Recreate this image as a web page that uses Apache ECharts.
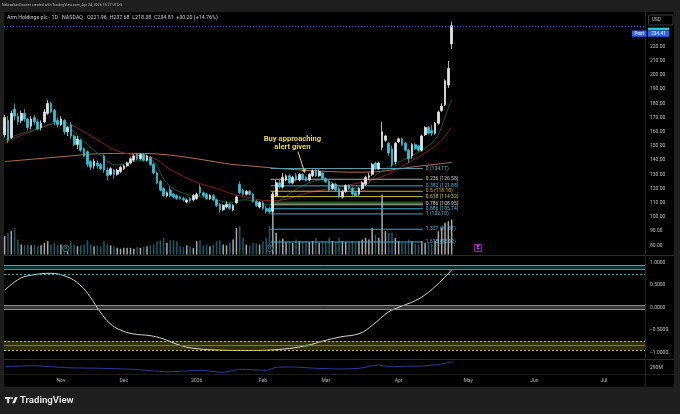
<!DOCTYPE html>
<html><head><meta charset="utf-8">
<script src="https://cdn.jsdelivr.net/npm/echarts@6/dist/echarts.min.js"></script>
<style>html,body{margin:0;padding:0;background:#1f1f1f}#c{width:680px;height:414px}</style>
</head><body><div id="c"></div><script>
// ---------- DATA ----------
const dates = ('2025-10-09 2025-10-10 2025-10-13 2025-10-14 2025-10-15 2025-10-16 2025-10-17 2025-10-20 2025-10-21 2025-10-22 2025-10-23 2025-10-24 2025-10-27 2025-10-28 2025-10-29 2025-10-30 2025-10-31 ' +
 '2025-11-03 2025-11-04 2025-11-05 2025-11-06 2025-11-07 2025-11-10 2025-11-11 2025-11-12 2025-11-13 2025-11-14 2025-11-17 2025-11-18 2025-11-19 2025-11-20 2025-11-21 2025-11-24 2025-11-25 2025-11-26 2025-11-28 ' +
 '2025-12-01 2025-12-02 2025-12-03 2025-12-04 2025-12-05 2025-12-08 2025-12-09 2025-12-10 2025-12-11 2025-12-12 2025-12-15 2025-12-16 2025-12-17 2025-12-18 2025-12-19 2025-12-22 2025-12-23 2025-12-24 2025-12-26 2025-12-29 2025-12-30 2025-12-31 ' +
 '2026-01-02 2026-01-05 2026-01-06 2026-01-07 2026-01-08 2026-01-09 2026-01-12 2026-01-13 2026-01-14 2026-01-15 2026-01-16 2026-01-20 2026-01-21 2026-01-22 2026-01-23 2026-01-26 2026-01-27 2026-01-28 2026-01-29 2026-01-30 ' +
 '2026-02-02 2026-02-03 2026-02-04 2026-02-05 2026-02-06 2026-02-09 2026-02-10 2026-02-11 2026-02-12 2026-02-13 2026-02-17 2026-02-18 2026-02-19 2026-02-20 2026-02-23 2026-02-24 2026-02-25 2026-02-26 2026-02-27 ' +
 '2026-03-02 2026-03-03 2026-03-04 2026-03-05 2026-03-06 2026-03-09 2026-03-10 2026-03-11 2026-03-12 2026-03-13 2026-03-16 2026-03-17 2026-03-18 2026-03-19 2026-03-20 2026-03-23 2026-03-24 2026-03-25 2026-03-26 2026-03-27 2026-03-30 2026-03-31 ' +
 '2026-04-01 2026-04-02 2026-04-06 2026-04-07 2026-04-08 2026-04-09 2026-04-10 2026-04-13 2026-04-14 2026-04-15 2026-04-16 2026-04-17 2026-04-20 2026-04-21 2026-04-22 2026-04-23 2026-04-24').split(' ');

// open, close, low, high
const ohlc = [
[158,170,156,172],[168,154,152,171],[156,173,155,175],[176,171,168,180],[171,167,165,173],
[168,173,166,175],[173,169,167,176],[169,163,161,170],[164,169,162,171],[170,167,165,172],
[167,162,161,169],[163,166,161,168],[167,174,166,176],[173,180,172,182.5],[180,174,173,181],
[175,167,165,176],[168,165,163,170],[165,169,164,171],[168,160,158,169],[160,163,157,164],
[165,157,155,167],[157,151,150,158],[151,155,148,157],[154,147,146,155],[148,143,142,149],
[146,137,135,147],[139,135,133,140],[136,139,134,141],[138,136,134,140],[137,134,133,138],
[143,133,131,144],[133,129,126,135],[130,134,129,135],[133,130,127,134],[130,133,129,134],
[132,135,131,136],[134,136,133,137],[136,138,135,139],[138,141,137,142],[140,143,139,144],
[144,141,140,145],[141,144,140,145],[144,140,139,145],[140,143,139,144],[142,137,136,143],
[137,131,130,138],[131,124,123,132],[125,119,118,126],[120,115,114,121],[115,117,114,118],
[119,115,114,121],[116,114,113,117],[115,113,112,116],[114,113,112,115],[113,112,111,114],
[110.5,112,109.5,113],[113,111.5,110,114],[112,115,111,116],[113,116,112,117],[121,117,115,123],
[117,115,114,118],[116,113,112,117],[113,115,112,116],[115,112,111,116],[112,108,107,113],
[109,105,103,110],[105,108,104,109],[107,109,106,111],[109,106,105,110],[105,108,104,109],
[110,114,109,115],[123,117,116,125],[119,116,115,120],[116,118,115,119],[118,116,115,119],
[116,111,110,117],[111,108,107,112],[107,110,106,111],[110,106,105,111],[106,104,102.5,108],
[106,103.5,102.1,107],[104,116,103,117],[115,124,114,126],[124,121,120,126],[121,128,120,131],
[126,129,125,130],[129,124,123,130],[124,128,123,129],[129,126,125,131],[126,130,125,131],
[130,127,126,131],[128,125.5,125,129],[126,130,125,131],[129,132.5,128,133.5],[133,129,128,134.11],
[129,132,128,133.5],[131,127,126,132],[127,125,124,128],[125,119,118,126],[120,123,119,124],
[123,119,118,124],[120,114,113,121],[114,118,113,119],[118,122,117,123],[122,120,119,123],
[120,116,115,121],[117,115,114,118],[116,120,115,121],[120,124,119,125],[123,128,122,129],
[128,129,126,131],[130,137,129,138],[138,134,133,139],[134,138,133,139],[149,160,147,167],
[154,157,153,158],[152,145,143,153],[148,137,135,150],[139,152,137,153],[153,155,152,156],
[155,151,150,156],[152,147,146,153],[147,141,138,148],[143,151,141,152],[151,148,147,152],
[150,147,146,151],[147,157,146,158],[158,163,157,164],[163,159,158,164],[161,159,157,165],
[159,166,158,167],[166,174,165,175],[175,178,174,180],[179,196,178,197],[193,204.61,191,210],
[221.96,234.81,218.38,237.68]
];

const volume = [
11,13,14,16,9,6,5.5,6,5.5,6, 5,5.5,7,8,6,7,5.5,6,5.5,5,
8,6,5,5.5,6,8.5,6,5,5.5,5, 8,6.5,5.5,5,4,3.5,4,4,4,3.5,
4.5,4,4.5,5,5.5,6,8,8.5,10,7, 8.5,8.5,8,5,4.5,5.5,5,4,8,8.5,
5.5,6,5,6,8,8.5,6,5.5,7,9, 16,17,10,6,5.5,7,6.5,6,8,10,
17,38,13,9,9.5,7.5,8,7,9,8, 7.5,8,7.5,8,10,7,8,7.5,10,8,
7.5,10,8,7.5,7,8,7,8,9,10, 9,16,12,10,36,14,13,13,10,8,
7,7,9,8,6.5,6,8,7,7,6.5, 8,14,16,19,20,21
];

const ma200 = [[0,139],[10,141],[20,143],[28,144.5],[40,144.8],[48,144],[55,142],[62,139.5],[68,137.2],[75,135.8],[81,134.5],[90,133],[98,132],[106,131.5],[112,131.8],[118,133.5],[124,135.5],[130,137],[135,138.5]];
const ma50 = [[0,152],[4,156.5],[9,161],[14,165.5],[18,166],[22,162.5],[29,153],[34,146.5],[41,143],[45,141.5],[49,135],[54,128.5],[59,123.5],[64,120],[69,116],[74,113.5],[79,111.5],[84,112],[90,116],[98,120],[106,123.5],[112.4,127],[117.3,132],[122.5,139],[127.6,146],[131.5,153],[135,163]];
const ma20 = [[0,154],[4,158],[8.5,161],[13,164.5],[16.7,167],[20,162],[23.6,154],[28.8,143.6],[33.9,136.6],[38.7,139],[43.9,140],[49,123.7],[53.8,116.8],[59,114.3],[64,112],[68,110],[72,112],[76,111],[80,108.5],[84,113],[90,122],[96,126],[101,122],[106,120],[110,124],[112.4,130],[117.3,136.6],[122.5,142.5],[127.6,149.5],[130.6,156.5],[132.6,168],[135,183]];

const fibRatios = ['0','0.236','0.382','0.5','0.618','0.786','0.886','1','1.337','1.618'];
const fibValues = [134.11,126.55,121.88,118.10,114.32,108.95,105.74,102.10,91.31,82.32];
const fibAnchor = [80.3, 126.3];        // bar index span of the drawing
const fibZone = [107.9, 110.8];          // shaded pocket

const oscPoints = [[0,0.38],[4.6,0.64],[8.5,0.72],[13.7,0.755],[18.8,0.68],[22.7,0.50],[25.8,0.235],[28.8,-0.10],[31.8,-0.36],[34.8,-0.50],[38.7,-0.59],[43.9,-0.63],[47.8,-0.70],[52,-0.82],[56,-0.90],[64.1,-0.95],[74.1,-0.96],[84,-0.93],[91.3,-0.85],[96.1,-0.75],[101.3,-0.66],[107.3,-0.58],[111.2,-0.39],[115.8,-0.11],[119.4,0.01],[125.4,0.20],[130.6,0.50],[135,0.83]];
const oscSignal = [[91.3,-0.85]];
const oscBands = {upper:[0.94,0.85,0.74], mid:[0.05,-0.04], lower:[-0.75,-0.85,-0.95]};

const obvPoints = [[0,265],[8.6,270],[18.7,260],[28.8,257],[38.8,252],[48.9,240],[55,243.5],[59,247],[66,237],[71,252],[79,247],[82,262],[87,263.5],[94,257],[101,253.5],[107,257],[113,273.5],[116,265],[121,267],[126,268.5],[131.5,277],[135,290]];

const monthTicks = [17,36,58,78,97,119,140,160,181];
const monthNames = ['Nov','Dec','2026','Feb','Mar','Apr','May','Jun','Jul'];
const priceTicks = [80,90,100,110,120,130,140,150,160,170,180,190,200,210,220];
const oscTicks = [1,0.5,0,-0.5,-1];
const postPrice = 234.41;
const events = [{i:18.5,t:'D'},{i:80,t:'D'},{i:143,t:'E'}];
const annotation = {lines:['Buy approaching','alert given'], textAt:[86.9,154.7,148.9], arrowFrom:[88.6,146], arrowTo:[90.7,130.8]};

// ---------- STYLE ----------
const UP = '#e4e4e4', DN = '#2ec4dc';
const fibColors = ['#5a9fae','#a8a8a8','#3fa7d6','#f0a830','#c9bd2c','#a8a8a8','#3fa7d6','#3fa7d6','#3fa7d6','#3fa7d6'];
const fibLabelColors = ['#7fb6d0','#d0d0d0','#4fb3e0','#f0b030','#d8c830','#d8d8d8','#5fb8e6','#5fb8e6','#5fb8e6','#5fb8e6'];
const FONT = 'Roboto';
const XMIN = -0.2, XMAX = 193.4;

const chart = echarts.init(document.getElementById('c'), null, {width:680, height:414});

const candleData = ohlc.map((d,i)=>[i,d[0],d[1],d[2],d[3]]);
const volData = volume.map((v,i)=>({value:[i,v], itemStyle:{color: ohlc[i][1]>=ohlc[i][0] ? 'rgba(215,215,215,0.78)' : 'rgba(40,150,170,0.62)'}}));

const series = [];
series.push({type:'bar', name:'vol', xAxisIndex:0, yAxisIndex:1, data:volData, barWidth:1.5, z:1, silent:true, animation:false});
series.push({type:'line', data:ma200, xAxisIndex:0, yAxisIndex:0, smooth:0.4, showSymbol:false, lineStyle:{color:'#b8703a', width:1}, z:2, animation:false});
series.push({type:'line', data:ma50, xAxisIndex:0, yAxisIndex:0, smooth:0.4, showSymbol:false, lineStyle:{color:'#8e1c1c', width:1}, z:2, animation:false});
series.push({type:'line', data:ma20, xAxisIndex:0, yAxisIndex:0, smooth:0.4, showSymbol:false, lineStyle:{color:'#1c5a2a', width:1}, z:2, animation:false});
fibValues.forEach((v,k)=>{
  const s = {type:'line', data:[[fibAnchor[0],v],[fibAnchor[1],v]], xAxisIndex:0, yAxisIndex:0, showSymbol:false, silent:true,
    lineStyle:{color:fibColors[k], width:1}, z:2, animation:false,
    endLabel:{show:true, formatter: fibRatios[k]+' ('+v.toFixed(2)+')', color:fibLabelColors[k], fontSize:5, fontFamily:FONT, distance:3}};
  if (k===0) {
    s.markArea = {silent:true, itemStyle:{color:'rgba(90,170,70,0.45)'}, data:[[{coord:[fibAnchor[0],fibZone[1]]},{coord:[fibAnchor[1],fibZone[0]]}]]};
  }
  series.push(s);
});
series.push({type:'candlestick', data:candleData, xAxisIndex:0, yAxisIndex:0, barWidth:2.2, z:3, animation:false,
  itemStyle:{color:UP, color0:DN, borderColor:UP, borderColor0:DN, borderWidth:0.8},
  markLine:{silent:true, symbol:'none', label:{show:false}, lineStyle:{color:'#2962ff', type:[1,2], width:1}, data:[{yAxis:postPrice}]}});

series.push({type:'line', data:oscPoints, xAxisIndex:1, yAxisIndex:2, smooth:0.4, showSymbol:false, z:4, animation:false,
  lineStyle:{width:1, color:'#d6d6cc'},
  markArea:{silent:true, data:[
    [{yAxis:oscBands.upper[0], itemStyle:{color:'rgba(30,140,140,0.35)'}},{yAxis:oscBands.upper[1]}],
    [{yAxis:oscBands.mid[0], itemStyle:{color:'rgba(120,120,120,0.45)'}},{yAxis:oscBands.mid[1]}],
    [{yAxis:oscBands.lower[0], itemStyle:{color:'rgba(150,150,30,0.32)'}},{yAxis:oscBands.lower[2]}]
  ]},
  markLine:{silent:true, symbol:'none', label:{show:false}, data:[
    {yAxis:oscBands.upper[0], lineStyle:{color:'#2bb3b0', type:'solid', width:1}},
    {yAxis:oscBands.upper[1], lineStyle:{color:'#2a9d9a', type:'solid', width:1}},
    {yAxis:oscBands.upper[2], lineStyle:{color:'#2bb3b0', type:[2,2], width:1}},
    {yAxis:oscBands.mid[0], lineStyle:{color:'#8a8a8a', type:'solid', width:1}},
    {yAxis:oscBands.mid[1], lineStyle:{color:'#8a8a8a', type:'solid', width:1}},
    {yAxis:oscBands.lower[0], lineStyle:{color:'#c8c030', type:[2,2], width:1}},
    {yAxis:oscBands.lower[1], lineStyle:{color:'#7a7a30', type:'solid', width:1}},
    {yAxis:oscBands.lower[2], lineStyle:{color:'#c8c030', type:[2,2], width:1}}
  ]}});
series.push({type:'scatter', data:oscSignal, xAxisIndex:1, yAxisIndex:2, symbolSize:3, itemStyle:{color:'#4caf50'}, z:5, animation:false});
series.push({type:'line', data:obvPoints, xAxisIndex:2, yAxisIndex:3, smooth:0.2, showSymbol:false, lineStyle:{color:'#2a3f9e', width:1}, z:3, animation:false});

const hiddenX = (g)=>({type:'value', gridIndex:g, min:XMIN, max:XMAX, show:false});
const option = {
  backgroundColor:'#1f1f1f',
  animation:false,
  grid:[
    {left:4, right:35, top:13, height:241.5, outerBoundsMode:'none'},
    {left:4, right:35, top:256, height:103, outerBoundsMode:'none'},
    {left:4, right:35, top:360, height:14, outerBoundsMode:'none'}
  ],
  xAxis:[hiddenX(0), hiddenX(1),
    {type:'value', gridIndex:2, min:XMIN, max:XMAX, axisLine:{show:false}, axisTick:{show:false}, splitLine:{show:false},
     axisLabel:{customValues:monthTicks, formatter:(v)=>monthNames[monthTicks.indexOf(v)], color:'#b8b8b8', fontSize:5, fontFamily:FONT, margin:4}}],
  yAxis:[
    {type:'value', gridIndex:0, position:'right', min:73.5, max:243.75, axisLine:{show:false}, axisTick:{show:false}, splitLine:{show:false},
     axisLabel:{customValues:priceTicks, formatter:(v)=>v.toFixed(2), color:'#c4c4c4', fontSize:5, fontFamily:FONT, margin:5}},
    {type:'value', gridIndex:0, min:0, max:145, show:false},
    {type:'value', gridIndex:1, position:'right', min:-1.149, max:1.14, axisLine:{show:false}, axisTick:{show:false}, splitLine:{show:false},
     axisLabel:{customValues:oscTicks, formatter:(v)=>(v<0?'\u2212':'')+Math.abs(v).toFixed(4), color:'#c4c4c4', fontSize:5, fontFamily:FONT, margin:5}},
    {type:'value', gridIndex:2, min:228.5, max:298.5, show:false}
  ],
  series:series
};
chart.setOption(option);

// ---------- GRAPHICS (frame, texts, annotation) ----------
const P = (x,y)=>chart.convertToPixel({xAxisIndex:0, yAxisIndex:0},[x,y]);
const last = ohlc[ohlc.length-1], prev = ohlc[ohlc.length-2];
const chg = last[1]-prev[1], pct = chg/prev[1]*100;
const legend = 'Arm Holdings plc \u00b7 1D \u00b7 NASDAQ   O' + last[0].toFixed(2) + '  H' + last[3].toFixed(2) + '  L' + last[2].toFixed(2) + '  C' + last[1].toFixed(2) + '  +' + chg.toFixed(2) + ' (+' + pct.toFixed(2) + '%)';

const g = [];
g.push({type:'rect', shape:{x:4,y:12,width:670,height:375}, style:{fill:'#000'}, z:-10, silent:true});
g.push({type:'text', x:2, y:5.5, style:{text:'NebraskanGooner created with TradingView.com, Apr 24, 2026 15:27 UTC-5', fill:'#b4b4b4', font:'3.6px '+FONT, verticalAlign:'middle'}, silent:true});
g.push({type:'text', x:7, y:17.5, style:{text:legend, fill:'#d0d0d0', font:'5.3px '+FONT, verticalAlign:'middle'}, silent:true, z:10});
g.push({type:'line', shape:{x1:4,y1:255.5,x2:674,y2:255.5}, style:{stroke:'#2c2c2c', lineWidth:1}, silent:true});
g.push({type:'line', shape:{x1:4,y1:359.5,x2:674,y2:359.5}, style:{stroke:'#2c2c2c', lineWidth:1}, silent:true});
g.push({type:'line', shape:{x1:4,y1:374.5,x2:674,y2:374.5}, style:{stroke:'#1c1c1c', lineWidth:1}, silent:true});
g.push({type:'line', shape:{x1:645.5,y1:12,x2:645.5,y2:387}, style:{stroke:'#262626', lineWidth:1}, silent:true});
const yClose = P(0,last[1])[1];
g.push({type:'rect', shape:{x:648,y:yClose+2,width:21,height:2.6}, style:{fill:'#26c6da'}, z:10, silent:true});
g.push({type:'rect', shape:{x:632,y:yClose+4.8,width:14.5,height:6.3}, style:{fill:'#2962ff'}, z:10, silent:true});
g.push({type:'text', x:639.2, y:yClose+8, style:{text:'Post', fill:'#fff', font:'4.6px '+FONT, align:'center', verticalAlign:'middle'}, z:11, silent:true});
g.push({type:'rect', shape:{x:648,y:yClose+4.8,width:21,height:6.3}, style:{fill:'#2962ff'}, z:10, silent:true});
g.push({type:'text', x:658.5, y:yClose+8, style:{text:postPrice.toFixed(2), fill:'#fff', font:'4.8px '+FONT, align:'center', verticalAlign:'middle'}, z:11, silent:true});
g.push({type:'rect', shape:{x:648.5,y:15,width:24.5,height:10,r:1}, style:{fill:'#000', stroke:'#3c3c3c', lineWidth:1}, z:10, silent:true});
g.push({type:'text', x:652, y:20, style:{text:'USD', fill:'#cfcfcf', font:'4.6px '+FONT, verticalAlign:'middle'}, z:11, silent:true});
g.push({type:'text', x:650, y:367.7, style:{text:'290M', fill:'#c4c4c4', font:'5px '+FONT, verticalAlign:'middle'}, z:11, silent:true});
const t1 = P(annotation.textAt[0], annotation.textAt[1]);
const t2 = P(annotation.textAt[0], annotation.textAt[2]);
g.push({type:'text', x:t1[0], y:t1[1], style:{text:annotation.lines[0], fill:'#e8d84a', font:'bold 7.6px '+FONT, align:'center', verticalAlign:'middle'}, z:12, silent:true});
g.push({type:'text', x:t2[0], y:t2[1], style:{text:annotation.lines[1], fill:'#e8d84a', font:'bold 7.6px '+FONT, align:'center', verticalAlign:'middle'}, z:12, silent:true});
const a0 = P(annotation.arrowFrom[0], annotation.arrowFrom[1]);
const a1 = P(annotation.arrowTo[0], annotation.arrowTo[1]);
const ang = Math.atan2(a1[1]-a0[1], a1[0]-a0[0]);
const hl = 4, hw = 2.2;
const bx = a1[0]-hl*Math.cos(ang), by = a1[1]-hl*Math.sin(ang);
g.push({type:'line', shape:{x1:a0[0],y1:a0[1],x2:bx,y2:by}, style:{stroke:'#e8d84a', lineWidth:1}, z:12, silent:true});
g.push({type:'polygon', shape:{points:[[a1[0],a1[1]],[bx+hw*Math.sin(ang),by-hw*Math.cos(ang)],[bx-hw*Math.sin(ang),by+hw*Math.cos(ang)]]}, style:{fill:'#e8d84a'}, z:12, silent:true});
events.forEach(e=>{
  const px = P(e.i, 80)[0];
  if (e.t==='E') {
    g.push({type:'rect', shape:{x:px-3.5,y:244.5,width:7,height:7}, style:{fill:'#1a0a22', stroke:'#9c27b0', lineWidth:1}, z:12, silent:true});
    g.push({type:'text', x:px, y:248, style:{text:'E', fill:'#d070e0', font:'bold 5px '+FONT, align:'center', verticalAlign:'middle'}, z:13, silent:true});
  } else {
    g.push({type:'circle', shape:{cx:px,cy:248.3,r:3.2}, style:{fill:'#0a1a1c', stroke:'#3d7f86', lineWidth:0.8}, z:12, silent:true});
    g.push({type:'text', x:px, y:248.3, style:{text:'D', fill:'#5fa5ac', font:'4px '+FONT, align:'center', verticalAlign:'middle'}, z:13, silent:true});
  }
});
g.push({type:'rect', shape:{x:5,y:397,width:5.5,height:2}, style:{fill:'#e8e8e8'}, silent:true});
g.push({type:'rect', shape:{x:7.2,y:397,width:2,height:6.2}, style:{fill:'#e8e8e8'}, silent:true});
g.push({type:'circle', shape:{cx:12,cy:398,r:1}, style:{fill:'#e8e8e8'}, silent:true});
g.push({type:'polygon', shape:{points:[[12.3,403.2],[15,397],[17.6,397],[14.9,403.2]]}, style:{fill:'#e8e8e8'}, silent:true});
g.push({type:'text', x:20, y:400.5, style:{text:'TradingView', fill:'#e8e8e8', font:'600 9.6px '+FONT, verticalAlign:'middle'}, silent:true});

chart.setOption({graphic:{elements:g}});
</script></body></html>
